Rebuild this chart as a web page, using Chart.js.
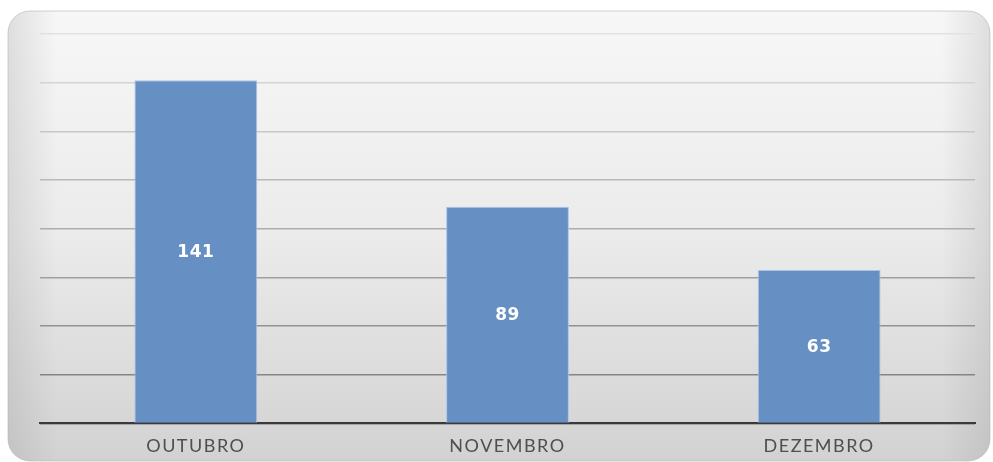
<!DOCTYPE html>
<html>
<head>
<meta charset="utf-8">
<script src="https://cdn.jsdelivr.net/npm/chart.js@4/dist/chart.umd.min.js"></script>
<style>
  html, body { margin: 0; padding: 0; background: #fff; }
  #wrap { width: 993px; height: 462px; position: relative; }
</style>
</head>
<body>
<div id="wrap"><canvas id="chart"></canvas></div>
<script>
// ── Data ──
const months = ["OUTUBRO", "NOVEMBRO", "DEZEMBRO"];
const counts = [141, 89, 63];
const yTicks = [0, 20, 40, 60, 80, 100, 120, 140, 160];

// ── Panel background (rounded, grey gradient) ──
const panelBg = {
  id: "panelBg",
  beforeDraw(chart) {
    const ctx = chart.ctx;
    const x = 8, y = 11, w = 982, h = 450, r = 22;
    ctx.save();
    ctx.beginPath();
    ctx.roundRect(x, y, w, h, r);
    const g = ctx.createLinearGradient(0, y, 0, y + h);
    g.addColorStop(0, "#f7f7f7");
    g.addColorStop(0.5, "#ebebeb");
    g.addColorStop(1, "#d2d2d2");
    ctx.fillStyle = g;
    ctx.fill();
    const gh = ctx.createLinearGradient(x, 0, x + w, 0);
    gh.addColorStop(0, "rgba(150,150,150,0.25)");
    gh.addColorStop(0.05, "rgba(150,150,150,0)");
    gh.addColorStop(0.95, "rgba(150,150,150,0)");
    gh.addColorStop(1, "rgba(150,150,150,0.25)");
    ctx.fillStyle = gh;
    ctx.fill();
    ctx.strokeStyle = "rgba(180,180,180,0.6)";
    ctx.lineWidth = 1;
    ctx.stroke();
    ctx.restore();
    // a bit of spacing for the month labels
    ctx.letterSpacing = "1.5px";
  }
};

// ── Value labels inside bars ──
const barLabels = {
  id: "barLabels",
  afterDatasetsDraw(chart) {
    const ctx = chart.ctx;
    const meta = chart.getDatasetMeta(0);
    ctx.save();
    ctx.letterSpacing = "0.5px";
    ctx.fillStyle = "#ffffff";
    ctx.font = "bold 17px 'DejaVu Sans', sans-serif";
    ctx.textAlign = "center";
    ctx.textBaseline = "middle";
    meta.data.forEach((bar, i) => {
      const cy = (bar.y + bar.base) / 2 + 1;
      ctx.fillText(String(counts[i]), bar.x, cy);
    });
    ctx.restore();
  }
};

new Chart(document.getElementById("chart"), {
  type: "bar",
  data: {
    labels: months,
    datasets: [{
      data: counts,
      backgroundColor: "#6690c4",
      borderColor: "#a9c4e6",
      borderWidth: { left: 1, right: 1, top: 1, bottom: 0 },
      borderSkipped: false,
      categoryPercentage: 1,
      barPercentage: 0.394
    }]
  },
  options: {
    responsive: true, maintainAspectRatio: false, animation: false,
    layout: { padding: { left: 40, right: 18, top: 34, bottom: 1 } },
    plugins: { legend: { display: false }, tooltip: { enabled: false } },
    scales: {
      x: {
        grid: { display: false },
        border: { display: true, color: "#3a3a3a", width: 2 },
        ticks: { color: "#4f4f4f", font: { family: "Lato, 'Open Sans', sans-serif", size: 18 }, padding: 4 }
      },
      y: {
        min: 0, max: 160,
        afterBuildTicks: axis => { axis.ticks = yTicks.map(v => ({ value: v })); },
        afterFit: axis => { axis.width = 0; },
        ticks: { display: false },
        border: { display: false },
        grid: {
          drawTicks: false,
          lineWidth: 1.5,
          color: c => {
            const t = c.tick.value / 160;
            const v = Math.round(120 + t * 105);
            return `rgb(${v},${v},${v})`;
          }
        }
      }
    }
  },
  plugins: [panelBg, barLabels]
});
</script>
</body>
</html>
